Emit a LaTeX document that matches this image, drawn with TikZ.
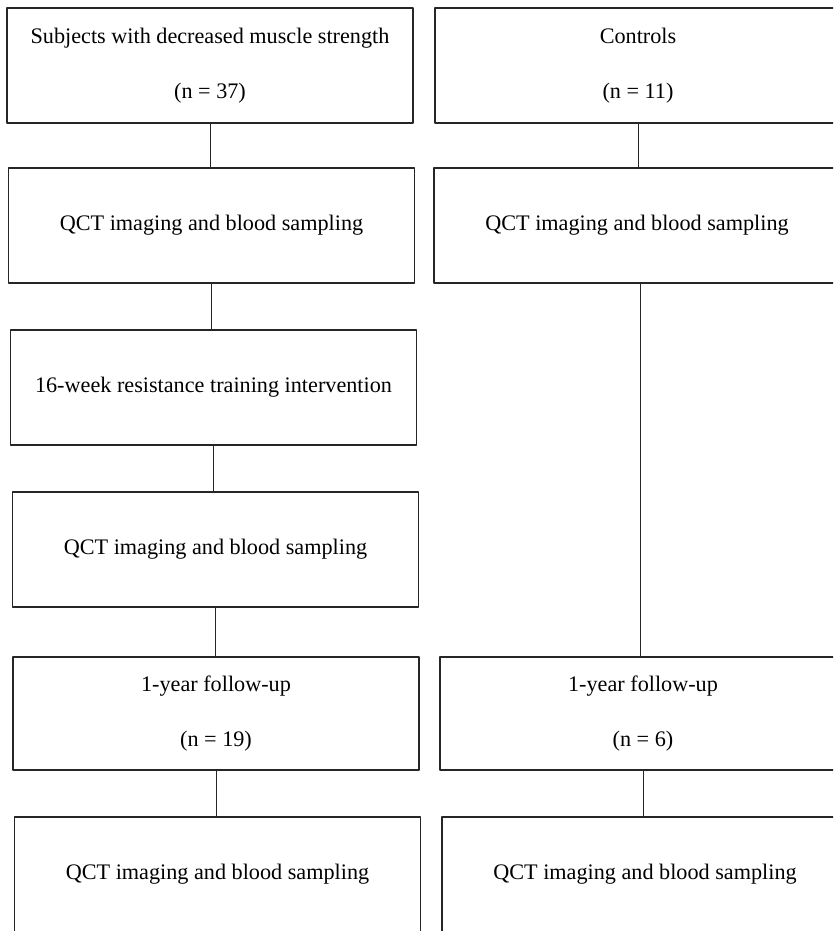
\documentclass[tikz,border=0pt]{standalone}
\usepackage{fontspec}
\setmainfont{Liberation Serif}
\begin{document}
\begin{tikzpicture}[x=1pt,y=-1pt,line join=round,line cap=round,
 box/.style={draw=black!85,line width=1.3pt,minimum width=406pt,minimum height=115pt,inner sep=0pt,align=center,font=\fontsize{22.2}{55}\selectfont},
 link/.style={draw=black!85,line width=1pt}]
 \useasboundingbox (0,0) rectangle (833,931);
 \clip (0,0) rectangle (833,931);
 % left column
 \node[box] (subj) at (210,65.5) {Subjects with decreased muscle strength\\(n = 37)};
 \node[box] (qctA) at (211.5,225.5) {QCT imaging and blood sampling};
 \node[box] (train) at (213.5,387.5) {16-week resistance training intervention};
 \node[box] (qctC) at (215.5,549.5) {QCT imaging and blood sampling};
 \node[box,minimum height=113pt] (followA) at (216,713.5) {1-year follow-up\\(n = 19)};
 \node[box] (qctD) at (217.5,874.5) {QCT imaging and blood sampling};
 % right column
 \node[box] (ctrl) at (638,65.5) {Controls\\(n = 11)};
 \node[box] (qctB) at (637,225.5) {QCT imaging and blood sampling};
 \node[box,minimum height=113pt] (followB) at (643,713.5) {1-year follow-up\\(n = 6)};
 \node[box] (qctE) at (645,874.5) {QCT imaging and blood sampling};
 \draw[link] (subj.south) -- (subj.south |- qctA.north);
 \draw[link] (qctA.south) -- (qctA.south |- train.north);
 \draw[link] (train.south) -- (train.south |- qctC.north);
 \draw[link] (qctC.south) -- (qctC.south |- followA.north);
 \draw[link] (followA.south) -- (followA.south |- qctD.north);
 \draw[link] (ctrl.south) -- (ctrl.south |- qctB.north);
 \draw[link] ([xshift=3pt]qctB.south) -- ([xshift=3pt]qctB.south |- followB.north);
 \draw[link] (followB.south) -- (followB.south |- qctE.north);
\end{tikzpicture}
\end{document}
